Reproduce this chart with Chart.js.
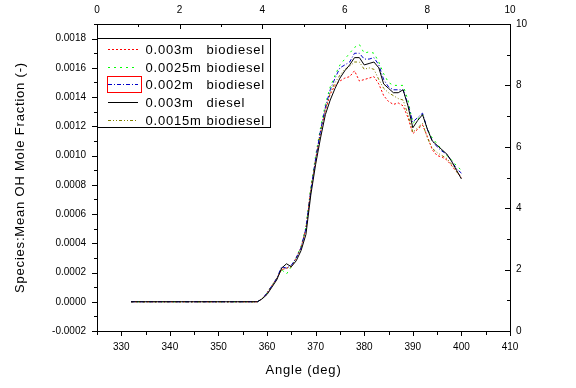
<!DOCTYPE html>
<html>
<head>
<meta charset="utf-8">
<script src="https://cdn.jsdelivr.net/npm/chart.js@4"></script>
<style>
  body { margin: 0; background: #fff; }
  canvas { display: block; }
</style>
</head>
<body>
<canvas id="ohChart" width="576" height="388"></canvas>
<script>
// crank angle (deg)
var angles = [332, 345, 358, 359, 360, 361, 362, 363, 364, 365, 366, 367, 368,
  369, 370, 371, 372, 373, 374, 375, 376, 377, 378,
  379, 380, 381, 382, 383, 384, 385, 386, 387, 388,
  389, 390, 391, 392, 393, 394, 395, 396, 397, 398, 399, 400];

// mean OH mole fraction for each case
var oh003Bio = [0, 0, 0, 0.00002, 0.00006, 0.00011, 0.00016, 0.00022, 0.00023, 0.00024, 0.0003, 0.00037, 0.0005,
  0.00076, 0.00097, 0.00116, 0.00131, 0.00142, 0.00148, 0.00151, 0.00153, 0.00154, 0.00158,
  0.00151, 0.00152, 0.00153, 0.00154, 0.00149, 0.00141, 0.00137, 0.00135, 0.00136, 0.00134,
  0.00126, 0.00115, 0.00118, 0.00121, 0.00113, 0.00104, 0.001, 0.00099, 0.00097, 0.00093, 0.00089, 0.00085];
var oh0025Bio = [0, 0, 0, 0.00002, 0.00006, 0.00011, 0.00016, 0.00022, 0.00019, 0.00024, 0.0003, 0.00038, 0.00051,
  0.00078, 0.001, 0.00119, 0.00135, 0.00147, 0.00155, 0.00162, 0.00166, 0.0017, 0.00174,
  0.00176, 0.0017, 0.00171, 0.0017, 0.00164, 0.00156, 0.0015, 0.00148, 0.00148, 0.00148,
  0.00138, 0.00122, 0.00125, 0.00128, 0.00118, 0.00112, 0.00108, 0.00104, 0.001, 0.00097, 0.00093, 0.0009];
var oh002Bio = [0, 0, 0, 0.00002, 0.00006, 0.00011, 0.00016, 0.00024, 0.00023, 0.00025, 0.0003, 0.00037, 0.0005,
  0.00076, 0.00098, 0.00117, 0.00133, 0.00145, 0.00153, 0.0016, 0.00162, 0.00164, 0.0017,
  0.0017, 0.00166, 0.00166, 0.00167, 0.00162, 0.00152, 0.00147, 0.00145, 0.00145, 0.00145,
  0.00135, 0.00123, 0.00126, 0.00129, 0.00118, 0.0011, 0.00106, 0.00103, 0.00101, 0.00096, 0.00091, 0.00088];
var oh003Diesel = [0, 0, 0, 0.00002, 0.00005, 0.0001, 0.00015, 0.00023, 0.00026, 0.00024, 0.00028, 0.00035, 0.00046,
  0.00073, 0.00094, 0.00112, 0.00128, 0.00138, 0.00146, 0.00153, 0.00158, 0.00162, 0.00167,
  0.00167, 0.00162, 0.00163, 0.00164, 0.0016, 0.00149, 0.00146, 0.00143, 0.00143, 0.00145,
  0.00134, 0.00119, 0.00124, 0.00128, 0.00118, 0.0011, 0.00107, 0.00104, 0.00101, 0.00096, 0.0009, 0.00084];
var oh0015Bio = [0, 0, 0, 0.00002, 0.00006, 0.00011, 0.00016, 0.00022, 0.00023, 0.00024, 0.0003, 0.00037, 0.0005,
  0.00077, 0.00097, 0.00116, 0.00132, 0.00143, 0.0015, 0.00155, 0.00159, 0.00161, 0.00164,
  0.00164, 0.00159, 0.0016, 0.00159, 0.00152, 0.00146, 0.00143, 0.00141, 0.00139, 0.00138,
  0.00128, 0.00116, 0.00119, 0.00122, 0.00112, 0.00105, 0.00102, 0.001, 0.00098, 0.00094, 0.00089, 0.00085];

// legend text
var caseSizes = ['0.003m', '0.0025m', '0.002m', '0.003m', '0.0015m'];
var caseFuels = ['biodiesel', 'biodiesel', 'biodiesel', 'diesel', 'biodiesel'];

// tick labels
var angleTicks = [330, 340, 350, 360, 370, 380, 390, 400, 410];
var angleMinor = [325, 335, 345, 355, 365, 375, 385, 395, 405];
var ohTicks = [-0.0002, 0, 0.0002, 0.0004, 0.0006, 0.0008, 0.001, 0.0012, 0.0014, 0.0016, 0.0018];
var ohMinor = [-0.0001, 0.0001, 0.0003, 0.0005, 0.0007, 0.0009, 0.0011, 0.0013, 0.0015, 0.0017, 0.0019];
var sideTicks = [0, 2, 4, 6, 8, 10];
var sideMinor = [1, 3, 5, 7, 9];

function toPoints(ys) {
  return ys.map(function(y, i) { return { x: angles[i], y: y }; });
}

function lineSet(label, ys, color, dash, order) {
  return {
    label: label,
    data: toPoints(ys),
    borderColor: color,
    borderWidth: 1,
    borderDash: dash,
    pointRadius: 0,
    tension: 0,
    fill: false,
    order: order
  };
}

function fixedTicks(list) {
  return function(scale) {
    scale.ticks = list.map(function(v) { return { value: v }; });
  };
}

var tickFont = { family: 'Arial', size: 10 };

// draws major/minor tick marks the way the original plot has them
var tickMarks = {
  id: 'tickMarks',
  afterDraw: function(chart) {
    var ctx = chart.ctx;
    var a = chart.chartArea;
    ctx.save();
    ctx.strokeStyle = '#000';
    ctx.lineWidth = 1;

    function mark(scale, values, len, side) {
      values.forEach(function(v) {
        var p = Math.round(scale.getPixelForValue(v)) + 0.5;
        ctx.beginPath();
        if (side === 'bottom') { ctx.moveTo(p, a.bottom); ctx.lineTo(p, a.bottom + len); }
        if (side === 'top') { ctx.moveTo(p, a.top); ctx.lineTo(p, a.top + len); }
        if (side === 'left') { ctx.moveTo(a.left, p); ctx.lineTo(a.left - len, p); }
        if (side === 'right') { ctx.moveTo(a.right, p); ctx.lineTo(a.right - len, p); }
        ctx.stroke();
      });
    }

    mark(chart.scales.x, angleTicks, 5, 'bottom');
    mark(chart.scales.x, angleMinor, 4, 'bottom');
    mark(chart.scales.y, ohTicks, 5, 'left');
    mark(chart.scales.y, ohMinor, 3, 'left');
    mark(chart.scales.x2, sideTicks, 5, 'top');
    mark(chart.scales.x2, sideMinor, 3, 'top');
    mark(chart.scales.y2, sideTicks, 5, 'right');
    mark(chart.scales.y2, sideMinor, 3, 'right');

    // axis titles
    ctx.fillStyle = '#000';
    ctx.font = '13px Arial';
    ctx.letterSpacing = '0.8px';
    ctx.textAlign = 'center';
    ctx.textBaseline = 'middle';
    ctx.fillText('Angle (deg)', (a.left + a.right) / 2, 370);
    ctx.save();
    ctx.translate(20, (a.top + a.bottom) / 2);
    ctx.rotate(-Math.PI / 2);
    ctx.fillText('Species:Mean OH Mole Fraction (-)', 0, 0);
    ctx.restore();
    ctx.restore();
  }
};

// boxed legend in the upper left corner
var boxLegend = {
  id: 'boxLegend',
  afterDraw: function(chart) {
    var ctx = chart.ctx;
    var a = chart.chartArea;
    var left = a.left, top = 38.5, right = 270.5, bottom = 127.5;
    ctx.save();
    ctx.fillStyle = '#fff';
    ctx.fillRect(left, top, right - left, bottom - top);
    ctx.strokeStyle = '#000';
    ctx.lineWidth = 1;
    ctx.strokeRect(left + 0.5, top, right - left - 0.5, bottom - top);

    ctx.font = '13px Arial';
    ctx.letterSpacing = '0.8px';
    ctx.textBaseline = 'middle';
    ctx.textAlign = 'left';
    chart.data.datasets.forEach(function(ds, i) {
      var y = Math.round(49 + i * 17.7) + 0.5;
      ctx.strokeStyle = ds.borderColor;
      ctx.setLineDash(ds.borderDash);
      ctx.beginPath();
      ctx.moveTo(108, y);
      ctx.lineTo(138, y);
      ctx.stroke();
      ctx.setLineDash([]);
      ctx.fillStyle = '#000';
      ctx.fillText(caseSizes[i], 145.5, y + 0.5);
      ctx.fillText(caseFuels[i], 206.5, y + 0.5);
    });

    // selection box left around the third sample
    ctx.strokeStyle = '#ff0000';
    ctx.strokeRect(107.5, 76.5, 34, 16);
    ctx.restore();
  }
};

window.onload = function() {
  var ctx = document.getElementById('ohChart').getContext('2d');
  new Chart(ctx, {
    type: 'line',
    data: {
      datasets: [
        lineSet('0.003m biodiesel', oh003Bio, '#ff0000', [2, 2], 3),
        lineSet('0.0025m biodiesel', oh0025Bio, '#00ff00', [2, 4], 4),
        lineSet('0.002m biodiesel', oh002Bio, '#0000c8', [4, 2, 1, 2], 1),
        lineSet('0.003m diesel', oh003Diesel, '#000000', [], 0),
        lineSet('0.0015m biodiesel', oh0015Bio, '#808000', [3, 2, 1, 2, 1, 2], 2)
      ]
    },
    options: {
      responsive: false,
      animation: false,
      devicePixelRatio: 1,
      layout: { padding: 0 },
      plugins: {
        legend: { display: false },
        tooltip: { enabled: false }
      },
      scales: {
        x: {
          type: 'linear',
          position: 'bottom',
          min: 325,
          max: 410,
          afterBuildTicks: fixedTicks(angleTicks),
          afterFit: function(s) { s.height = 57; },
          grid: { display: false, drawTicks: false },
          border: { display: true, color: '#000', width: 1 },
          ticks: { font: tickFont, color: '#000', padding: 10, maxRotation: 0 }
        },
        x2: {
          type: 'linear',
          position: 'top',
          min: 0,
          max: 10,
          afterBuildTicks: fixedTicks(sideTicks),
          afterFit: function(s) { s.height = 24; },
          grid: { display: false, drawTicks: false },
          border: { display: true, color: '#000', width: 1 },
          ticks: { font: tickFont, color: '#000', padding: 8, maxRotation: 0 }
        },
        y: {
          type: 'linear',
          position: 'left',
          min: -0.0002,
          max: 0.0019,
          afterBuildTicks: fixedTicks(ohTicks),
          afterFit: function(s) { s.width = 97; },
          grid: { display: false, drawTicks: false },
          border: { display: true, color: '#000', width: 1 },
          ticks: {
            font: tickFont,
            color: '#000',
            padding: 11,
            callback: function(v) { return Number(v).toFixed(4); }
          }
        },
        y2: {
          type: 'linear',
          position: 'right',
          min: 0,
          max: 10,
          afterBuildTicks: fixedTicks(sideTicks),
          afterFit: function(s) { s.width = 66; },
          grid: { display: false, drawTicks: false },
          border: { display: true, color: '#000', width: 1 },
          ticks: { font: tickFont, color: '#000', padding: 6 }
        }
      }
    },
    plugins: [tickMarks, boxLegend]
  });
};
</script>
</body>
</html>
